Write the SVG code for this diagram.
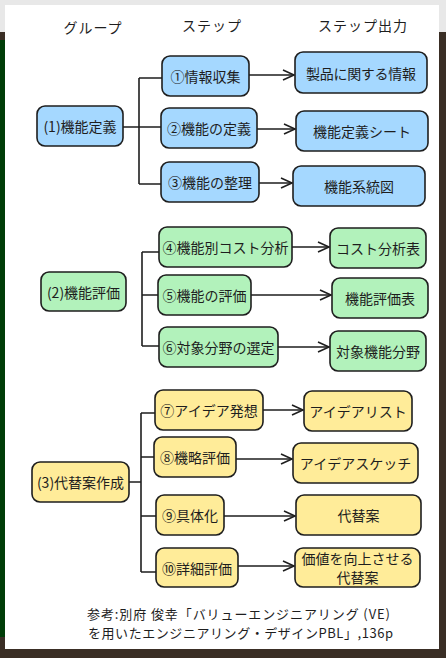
<svg xmlns="http://www.w3.org/2000/svg" width="446" height="658" viewBox="0 0 446 658">
<defs>
<style>
text{font-family:"Noto Sans CJK JP","Noto Sans",sans-serif;font-size:14px;fill:#1e1e1e;text-anchor:middle;dominant-baseline:central}
.hd{font-size:14px;letter-spacing:1px}
.ft{font-size:13px;text-anchor:start}
.b rect{fill:#a5d8ff}
.g rect{fill:#b2f2bb}
.y rect{fill:#ffec99}
.n rect{stroke:#1e1e1e;stroke-width:1.6}
.c path{fill:none;stroke:#1e1e1e;stroke-width:1.6}
.c .ar{marker-end:url(#ah)}
</style>
<marker id="ah" markerUnits="userSpaceOnUse" markerWidth="14" markerHeight="14" refX="12" refY="6" orient="auto" viewBox="0 0 14 12">
<path d="M1,1 L12,6 L1,11" fill="none" stroke="#1e1e1e" stroke-width="1.6"/>
</marker>
</defs>
<rect x="0" y="0" width="446" height="658" fill="#3a2e25"/>
<rect x="0" y="0" width="446" height="32" fill="#e8e8e8"/>
<rect x="0" y="40" width="6" height="597" fill="#003d08"/>
<rect x="5" y="5" width="434" height="644" fill="#ffffff"/>

<g id="headers">
<text class="hd" x="93" y="27">グループ</text>
<text class="hd" x="212" y="25">ステップ</text>
<text class="hd" x="363" y="25">ステップ出力</text>
</g>

<g id="connectors" class="c">
<path d="M123,127 H161 M139,78 V184 M139,78 H162 M139,184 H161"/>
<path d="M142,252 V346 M142,252 H159 M142,295 H158 M142,346 H159"/>
<path d="M129,482 H141 M141,413 V572 M141,413 H155 M141,457 H154 M141,516 H156 M141,572 H156"/>
<path class="ar" d="M249,75 H294"/>
<path class="ar" d="M257,129 H295"/>
<path class="ar" d="M259,183 H292"/>
<path class="ar" d="M292,247 H329"/>
<path class="ar" d="M251,295 H331"/>
<path class="ar" d="M278,347 H329"/>
<path class="ar" d="M263,410 H303"/>
<path class="ar" d="M236,459 H292"/>
<path class="ar" d="M224,516 H295"/>
<path class="ar" d="M238,566 H294"/>
</g>

<g id="group1" class="n b"><rect x="37" y="106" width="86" height="40" rx="8"/><text x="80" y="126">(1)機能定義</text></g>
<g id="step1" class="n b"><rect x="162" y="56" width="87" height="40" rx="8"/><text x="205.5" y="76">①情報収集</text></g>
<g id="step2" class="n b"><rect x="161" y="108" width="96" height="40" rx="8"/><text x="209" y="128">②機能の定義</text></g>
<g id="step3" class="n b"><rect x="161" y="162" width="98" height="40" rx="8"/><text x="210" y="182">③機能の整理</text></g>
<g id="out1" class="n b"><rect x="295" y="52" width="132" height="41" rx="8"/><text x="361" y="72.5" textLength="110">製品に関する情報</text></g>
<g id="out2" class="n b"><rect x="296" y="111" width="132" height="40" rx="8"/><text x="362" y="131">機能定義シート</text></g>
<g id="out3" class="n b"><rect x="293" y="166" width="132" height="40" rx="8"/><text x="359" y="186">機能系統図</text></g>

<g id="group2" class="n g"><rect x="41" y="272" width="85" height="39" rx="8"/><text x="83.5" y="291.5">(2)機能評価</text></g>
<g id="step4" class="n g"><rect x="159" y="227" width="133" height="40" rx="8"/><text x="225.5" y="247">④機能別コスト分析</text></g>
<g id="step5" class="n g"><rect x="158" y="275" width="93" height="40" rx="8"/><text x="204.5" y="295">⑤機能の評価</text></g>
<g id="step6" class="n g"><rect x="159" y="327" width="119" height="40" rx="8"/><text x="218.5" y="347">⑥対象分野の選定</text></g>
<g id="out4" class="n g"><rect x="330" y="228" width="96" height="40" rx="8"/><text x="378" y="248">コスト分析表</text></g>
<g id="out5" class="n g"><rect x="332" y="278" width="96" height="40" rx="8"/><text x="380" y="298">機能評価表</text></g>
<g id="out6" class="n g"><rect x="330" y="331" width="96" height="40" rx="8"/><text x="378" y="351">対象機能分野</text></g>

<g id="group3" class="n y"><rect x="32" y="462" width="97" height="40" rx="8"/><text x="80.5" y="482">(3)代替案作成</text></g>
<g id="step7" class="n y"><rect x="155" y="390" width="108" height="40" rx="8"/><text x="209" y="410">⑦アイデア発想</text></g>
<g id="step8" class="n y"><rect x="154" y="437" width="82" height="40" rx="8"/><text x="195" y="457">⑧機略評価</text></g>
<g id="step9" class="n y"><rect x="156" y="495" width="68" height="40" rx="8"/><text x="190" y="515">⑨具体化</text></g>
<g id="step10" class="n y"><rect x="156" y="548" width="82" height="39" rx="8"/><text x="197" y="567.5">⑩詳細評価</text></g>
<g id="out7" class="n y"><rect x="304" y="391" width="108" height="40" rx="8"/><text x="358" y="411">アイデアリスト</text></g>
<g id="out8" class="n y"><rect x="293" y="443" width="125" height="40" rx="8"/><text x="355.5" y="463">アイデアスケッチ</text></g>
<g id="out9" class="n y"><rect x="296" y="495" width="125" height="40" rx="8"/><text x="358.5" y="515">代替案</text></g>
<g id="out10" class="n y"><rect x="295" y="548" width="125" height="39" rx="8"/><text x="357.5" y="558">価値を向上させる</text><text x="357.5" y="577">代替案</text></g>

<g id="footer">
<text class="ft" x="87" y="613" textLength="303">参考:別府 俊幸「バリューエンジニアリング (VE)</text>
<text class="ft" x="88" y="632" textLength="305">を用いたエンジニアリング・デザインPBL」,136p</text>
</g>
</svg>
